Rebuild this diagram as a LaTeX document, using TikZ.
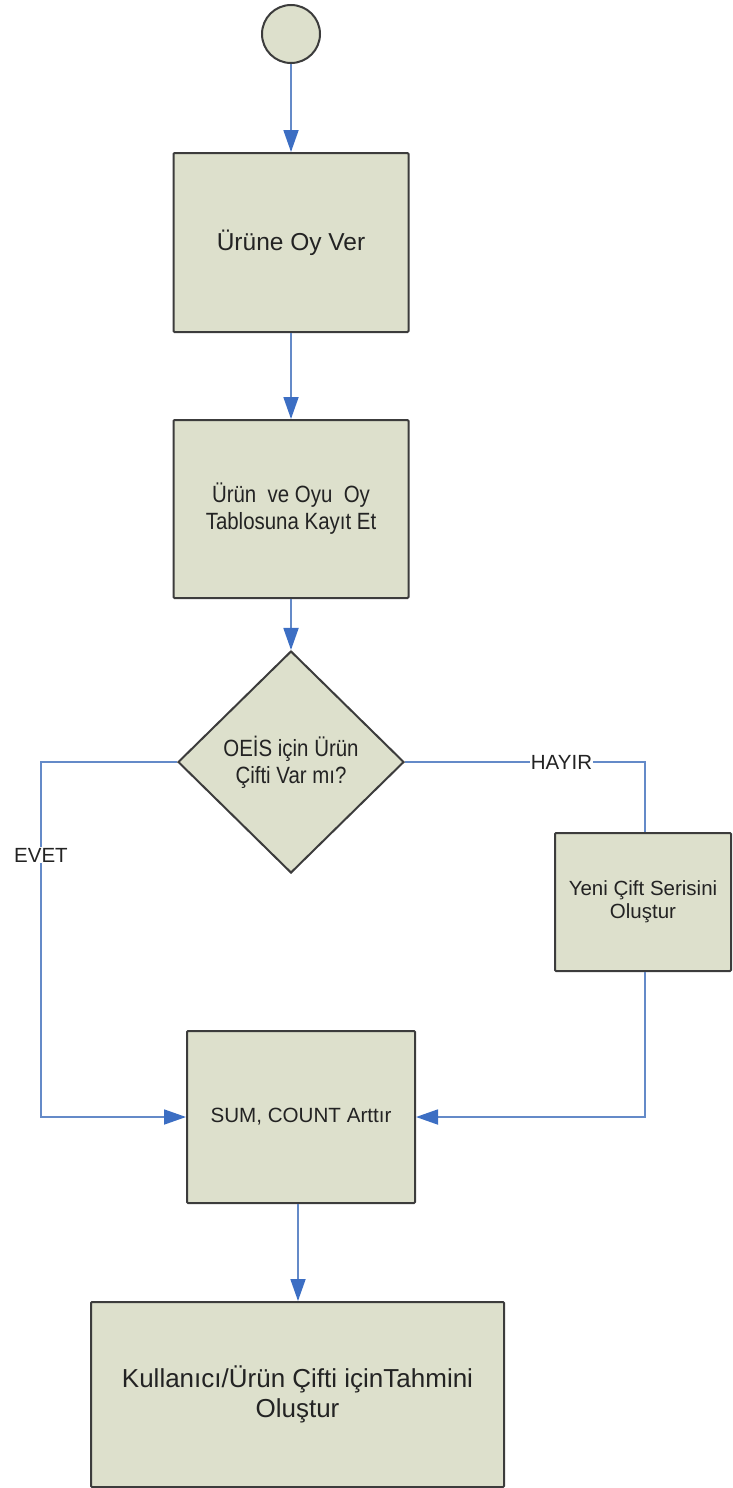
\documentclass[tikz,border=0pt]{standalone}
\usepackage{fontspec}
\setmainfont{Liberation Sans}
\newfontfamily\condfont[FakeStretch=0.87]{Liberation Sans}
\usetikzlibrary{shapes.geometric,arrows.meta}
\definecolor{boxfill}{RGB}{221,224,204}
\definecolor{boxdraw}{RGB}{60,60,60}
\definecolor{linkblue}{RGB}{100,138,200}
\definecolor{tipblue}{RGB}{60,110,195}
\definecolor{txt}{RGB}{35,35,35}
\begin{document}
\begin{tikzpicture}[x=1pt,y=-1pt,
  shapebox/.style={draw=boxdraw, fill=boxfill, line width=2pt, rounded corners=1pt, text=txt, align=center, inner sep=0pt},
  link/.style={draw=linkblue, line width=1.8pt, -{Triangle[length=22pt,width=15pt,color=tipblue]}},
  plainlink/.style={draw=linkblue, line width=1.8pt},
  lbl/.style={fill=white, text=txt, inner sep=1pt, font=\fontsize{20.5}{24}\selectfont}]
\useasboundingbox (0,0) rectangle (733,1488);
\node[shapebox, circle, minimum size=58pt] (start) at (291,34) {};
\node[shapebox, minimum width=235pt, minimum height=179pt,
  font=\fontsize{24.5}{28}\selectfont] (b1) at (291,242.5) {Ürüne Oy Ver};
\node[shapebox, minimum width=235pt, minimum height=178pt,
  font=\condfont\fontsize{23.5}{27}\selectfont] (b2) at (291,509) {Ürün~ ve Oyu~ Oy\\Tablosuna Kayıt Et};
\node[shapebox, diamond, rounded corners=0pt, minimum width=226pt, minimum height=222pt,
  font=\condfont\fontsize{23.5}{27}\selectfont] (dec) at (291,762) {OEİS için Ürün\\Çifti Var mı?};
\node[shapebox, minimum width=176pt, minimum height=138pt,
  font=\fontsize{20.5}{23}\selectfont] (b3) at (643,902) {Yeni Çift Serisini\\Oluştur};
\node[shapebox, minimum width=228pt, minimum height=172pt,
  font=\fontsize{20.6}{24}\selectfont] (sum) at (301,1117) {SUM, COUNT Arttır};
\node[shapebox, minimum width=413pt, minimum height=185pt,
  font=\fontsize{26}{30}\selectfont] (bot) at (297.5,1394.5) {Kullanıcı/Ürün Çifti içinTahmini\\Oluştur};
\coordinate (lc) at (41,762);
\coordinate (lb) at (41,1117);
\coordinate (rc) at (645,762);
\coordinate (rb) at (645,1117);
\coordinate (dx) at (298,0);
\draw[link] (start) -- (start |- b1.north);
\draw[link] (b1) -- (b2);
\draw[link] (b2) -- (dec);
\draw[link] (dec.west) -- (lc) -- (lb) -- (sum.west);
\draw[plainlink] (dec.east) -- (rc) -- (rc |- b3.north);
\draw[link] (rc |- b3.south) -- (rb) -- (sum.east);
\draw[link] (dx |- sum.south) -- (dx |- bot.north);
\node[lbl] (evet) at (41,855) {EVET};
\node[lbl] (hayir) at (561.5,762) {HAYIR};
\end{tikzpicture}
\end{document}
